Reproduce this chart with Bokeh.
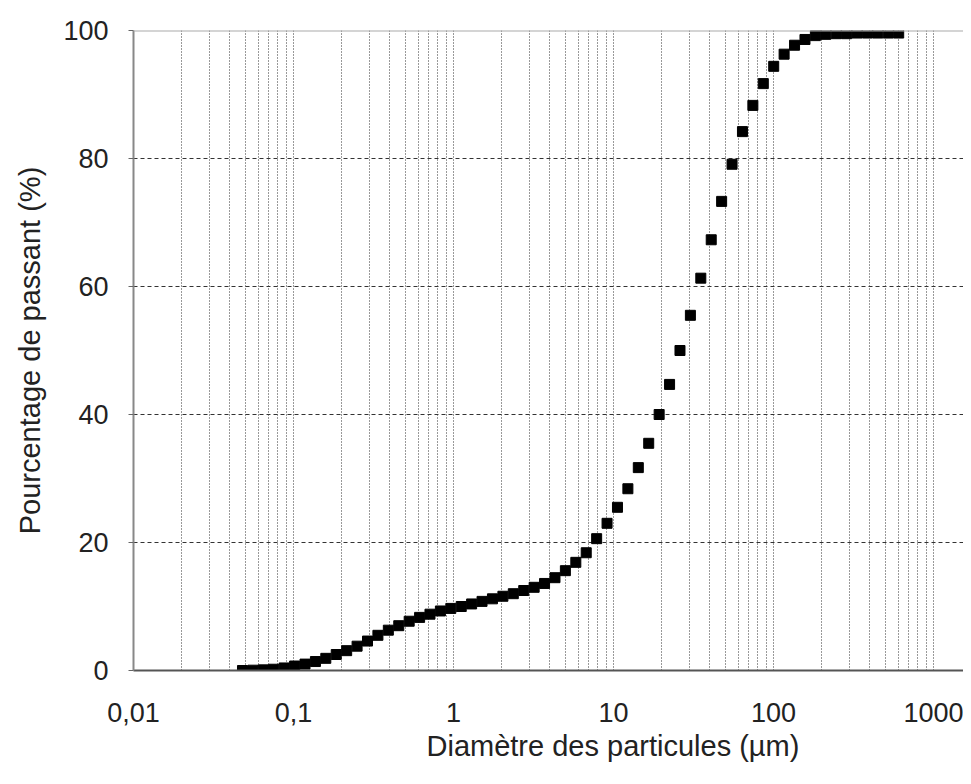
from bokeh.plotting import figure
from bokeh.models import FixedTicker, CustomJSTickFormatter, Span, Range1d, Title
from bokeh.embed import file_html
from bokeh.resources import INLINE

# Particle diameter (µm) and cumulative passing (%)
diam = [0.0480, 0.0558, 0.0648, 0.0752, 0.0874, 0.1016, 0.1180, 0.1371, 0.1592, 0.1850,
        0.2149, 0.2497, 0.2901, 0.3370, 0.3915, 0.4548, 0.5284, 0.6139, 0.7129, 0.8281,
        0.9620, 1.118, 1.298, 1.508, 1.752, 2.036, 2.365, 2.748, 3.192, 3.708,
        4.308, 5.004, 5.814, 6.754, 7.847, 9.115, 10.59, 12.30, 14.29, 16.60,
        19.29, 22.41, 26.03, 30.24, 35.13, 40.81, 47.41, 55.08, 63.97, 74.32,
        86.35, 100.3, 116.5, 135.4, 157.3, 182.7, 212.3, 246.6, 286.4, 332.7,
        386.5, 449.0, 521.6, 606.0]
passing = [0.0, 0.05, 0.1, 0.2, 0.4, 0.7, 1.0, 1.4, 1.9, 2.5,
           3.1, 3.8, 4.6, 5.5, 6.3, 7.0, 7.7, 8.3, 8.8, 9.3,
           9.7, 10.0, 10.4, 10.8, 11.2, 11.6, 12.0, 12.5, 13.0, 13.6,
           14.5, 15.6, 16.9, 18.4, 20.6, 23.0, 25.5, 28.4, 31.7, 35.5,
           40.0, 44.7, 50.0, 55.5, 61.3, 67.3, 73.3, 79.1, 84.2, 88.3,
           91.7, 94.4, 96.3, 97.7, 98.6, 99.2, 99.4, 99.5, 99.5, 99.6,
           99.6, 99.6, 99.6, 99.6]

x_major = [0.01, 0.1, 1, 10, 100, 1000]
y_major = [0, 20, 40, 60, 80, 100]
x_minor = [m * d for d in [0.01, 0.1, 1, 10, 100] for m in range(2, 10)]

FONT = "Liberation Sans"
TXT = "#222222"

p = figure(width=963, height=776, x_axis_type="log",
           x_range=Range1d(0.01, 1540), y_range=Range1d(0, 100),
           output_backend="svg", toolbar_location=None,
           min_border_left=133, min_border_top=30, min_border_bottom=106, min_border_right=0)
p.outline_line_color = None
p.background_fill_color = "white"
p.border_fill_color = "white"

# x axis
p.xaxis.ticker = FixedTicker(ticks=x_major, minor_ticks=x_minor)
p.xaxis.formatter = CustomJSTickFormatter(code="return String(tick).replace('.', ',');")
p.xaxis.major_label_text_font = FONT
p.xaxis.major_label_text_font_size = "27px"
p.xaxis.major_label_text_color = TXT
p.xaxis.major_label_standoff = 32
p.xaxis.major_tick_out = 0
p.xaxis.major_tick_in = 0
p.xaxis.minor_tick_out = 0
p.xaxis.minor_tick_in = 0
p.xaxis.axis_line_color = "#555555"
p.xaxis.axis_line_width = 2

# y axis
p.yaxis.ticker = FixedTicker(ticks=y_major)
p.yaxis.major_label_text_font = FONT
p.yaxis.major_label_text_font_size = "27px"
p.yaxis.major_label_text_color = TXT
p.yaxis.major_label_standoff = 20
p.yaxis.major_tick_out = 5
p.yaxis.major_tick_in = 0
p.yaxis.major_tick_line_color = "#666666"
p.yaxis.minor_tick_out = 0
p.yaxis.minor_tick_in = 0
p.yaxis.axis_line_color = "#888888"
p.yaxis.axis_line_width = 2
p.yaxis.axis_label = "Pourcentage de passant (%)"
p.yaxis.axis_label_text_font = FONT
p.yaxis.axis_label_text_font_size = "29px"
p.yaxis.axis_label_text_font_style = "normal"
p.yaxis.axis_label_text_color = TXT
p.yaxis.axis_label_standoff = 14

# grids
p.xgrid.grid_line_color = "#333333"
p.xgrid.grid_line_dash = "1 2"
p.xgrid.grid_line_width = 1
p.xgrid.minor_grid_line_color = "#333333"
p.xgrid.minor_grid_line_dash = "1 2"
p.xgrid.minor_grid_line_width = 1
p.ygrid.grid_line_color = "#333333"
p.ygrid.grid_line_dash = "4 3"
p.ygrid.grid_line_width = 1

top = Span(location=100, dimension="width", line_color="#aaaaaa", line_width=2)
p.add_layout(top)

p.scatter(diam, passing, marker="square", size=10, fill_color="black", line_color="black")

xtitle = Title(text="Diamètre des particules (µm)", align="left", offset=293,
               text_font=FONT, text_font_size="29px", text_font_style="normal",
               text_color=TXT, standoff=6)
p.add_layout(xtitle, "below")

open("out.html", "w").write(file_html(p, INLINE))
